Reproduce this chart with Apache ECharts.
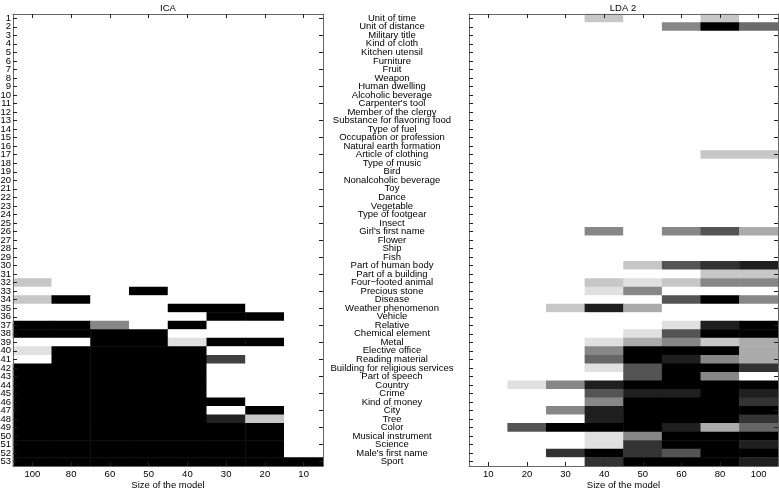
<!DOCTYPE html>
<html>
<head>
<meta charset="utf-8">
<script src="https://cdn.jsdelivr.net/npm/echarts@6/dist/echarts.min.js"></script>
<style>html,body{margin:0;padding:0;background:#fff;}#chart{width:779px;height:488px;}</style>
</head>
<body>
<div id="chart"></div>
<script>
// ---- Data ----
const icaSizes = ['100','80','60','50','40','30','20','10'];
const ldaSizes = ['10','20','30','40','50','60','80','100'];
const rowNumbers = Array.from({length: 53}, (_, i) => String(i + 1));
const categoryNames = [
  'Unit of time','Unit of distance','Military title','Kind of cloth','Kitchen utensil',
  'Furniture','Fruit','Weapon','Human dwelling','Alcoholic beverage',
  "Carpenter's tool",'Member of the clergy','Substance for flavoring food','Type of fuel','Occupation or profession',
  'Natural earth formation','Article of clothing','Type of music','Bird','Nonalcoholic beverage',
  'Toy','Dance','Vegetable','Type of footgear','Insect',
  "Girl's first name",'Flower','Ship','Fish','Part of human body',
  'Part of a building','Four\u2212footed animal','Precious stone','Disease','Weather phenomenon',
  'Vehicle','Relative','Chemical element','Metal','Elective office',
  'Reading material','Building for religious services','Part of speech','Country','Crime',
  'Kind of money','City','Tree','Color','Musical instrument',
  'Science',"Male's first name",'Sport'
];
// darkness values (0 = white, 1 = black); columns follow icaSizes
const Z = [0,0,0,0,0,0,0,0];
const icaValues = [
  Z,Z,Z,Z,Z,Z,Z,Z,Z,Z,
  Z,Z,Z,Z,Z,Z,Z,Z,Z,Z,
  Z,Z,Z,Z,Z,Z,Z,Z,Z,Z,
  Z,
  [0.22,0,0,0,0,0,0,0],
  [0,0,0,1,0,0,0,0],
  [0.22,1,0,0,0,0,0,0],
  [0,0,0,0,1,1,0,0],
  [0,0,0,0,0,1,1,0],
  [1,1,0.47,0,1,0,0,0],
  [1,1,1,1,0,0,0,0],
  [0,0,1,1,0.12,1,1,0],
  [0.12,1,1,1,1,0,0,0],
  [0,1,1,1,1,0.75,0,0],
  [1,1,1,1,1,0,0,0],
  [1,1,1,1,1,0,0,0],
  [1,1,1,1,1,0,0,0],
  [1,1,1,1,1,0,0,0],
  [1,1,1,1,1,1,0,0],
  [1,1,1,1,1,0,1,0],
  [1,1,1,1,1,0.87,0.22,0],
  [1,1,1,1,1,1,1,0],
  [1,1,1,1,1,1,1,0],
  [1,1,1,1,1,1,1,0],
  [1,1,1,1,1,1,1,0],
  [1,1,1,1,1,1,1,1]
];
// columns follow ldaSizes
const ldaValues = [
  [0,0,0,0.22,0,0,0.22,0],
  [0,0,0,0,0,0.47,1,0.58],
  Z,Z,Z,Z,Z,Z,Z,Z,Z,Z,Z,Z,Z,Z,
  [0,0,0,0,0,0,0.22,0.22],
  Z,Z,Z,Z,Z,Z,Z,Z,
  [0,0,0,0.47,0,0.47,0.67,0.33],
  Z,Z,Z,
  [0,0,0,0,0.22,0.67,0.8,0.88],
  [0,0,0,0,0,0,0.22,0.22],
  [0,0,0,0.22,0.12,0.22,0.47,0.47],
  [0,0,0,0.12,0.47,0,0,0],
  [0,0,0,0,0,0.67,1,0.47],
  [0,0,0.22,0.88,0.33,0,0,0],
  Z,
  [0,0,0,0,0,0.12,0.88,1],
  [0,0,0,0,0.12,0.67,1,1],
  [0,0,0,0.12,0.33,0.47,0.22,0.33],
  [0,0,0,0.47,1,1,1,0.33],
  [0,0,0,0.6,1,0.88,0.47,0.33],
  [0,0,0,0.12,0.67,1,1,0.8],
  [0,0,0,0,0.67,1,0.47,0],
  [0,0.12,0.47,0.88,1,1,1,1],
  [0,0,0,0.67,0.88,0.88,1,0.88],
  [0,0,0,0.47,1,1,1,0.8],
  [0,0,0.47,0.88,1,1,1,1],
  [0,0,0,0.88,1,1,1,0.8],
  [0,0.67,1,1,1,0.88,0.33,0.6],
  [0,0,0,0.12,0.47,1,1,1],
  [0,0,0,0.12,0.8,1,1,0.88],
  [0,0,0.8,1,0.8,0.67,1,1],
  [0,0,0,0.8,1,1,1,0.88]
];

function toCells(rows) {
  const out = [];
  rows.forEach((r, yi) => r.forEach((v, xi) => out.push([xi, yi, v])));
  return out;
}

const FONT = 'Liberation Sans, Arial, Helvetica, sans-serif';
const FS = 9.5;
const lineCol = '#666';
const tickCol = '#222';
function xAx(grid, data, pos, labels, name) {
  return {
    type: 'category', gridIndex: grid, data: data, position: pos, z: 5,
    axisLine: {show: true, onZero: false, lineStyle: {color: lineCol, width: 1}},
    axisTick: {show: true, inside: true, length: 4, alignWithLabel: true, lineStyle: {color: tickCol}},
    axisLabel: {show: labels, fontSize: FS, color: '#000', margin: 3, fontFamily: FONT},
    splitLine: {show: false},
    name: name || '', nameLocation: 'middle', nameGap: 14, nameMoveOverlap: false,
    nameTextStyle: {fontSize: FS, color: '#000', fontFamily: FONT, verticalAlign: 'top'}
  };
}
function yAx(grid, data, pos, labelCfg) {
  return {
    type: 'category', gridIndex: grid, data: data, position: pos, inverse: true, z: 5,
    axisLine: {show: true, onZero: false, lineStyle: {color: lineCol, width: 1}},
    axisTick: {show: true, inside: true, length: 4, alignWithLabel: true, lineStyle: {color: tickCol}},
    axisLabel: labelCfg ? Object.assign({show: true, interval: 0, fontSize: FS, color: '#000', fontFamily: FONT}, labelCfg) : {show: false},
    splitLine: {show: false}
  };
}

const chart = echarts.init(document.getElementById('chart'), null, {renderer: 'canvas'});
chart.setOption({
  backgroundColor: '#fff',
  animation: false,
  title: [
    {text: 'ICA', left: 168, top: 3, padding: 0, textAlign: 'center', textStyle: {fontSize: FS, fontWeight: 'normal', color: '#000', fontFamily: FONT}},
    {text: 'LDA 2', left: 623, top: 3, padding: 0, textAlign: 'center', textStyle: {fontSize: FS, fontWeight: 'normal', color: '#000', fontFamily: FONT}}
  ],
  grid: [
    {left: 13, top: 14, width: 310, height: 452, outerBoundsMode: 'none', containLabel: false},
    {left: 469, top: 14, width: 309, height: 452, outerBoundsMode: 'none', containLabel: false}
  ],
  xAxis: [
    xAx(0, icaSizes, 'bottom', true, 'Size of the model'),
    xAx(0, icaSizes, 'top', false),
    xAx(1, ldaSizes, 'bottom', true, 'Size of the model'),
    xAx(1, ldaSizes, 'top', false)
  ],
  yAxis: [
    yAx(0, rowNumbers, 'left', {margin: 2}),
    yAx(0, rowNumbers, 'right', null),
    yAx(1, categoryNames, 'left', {margin: 77, align: 'center'}),
    yAx(1, categoryNames, 'right', null)
  ],
  visualMap: {
    show: false, type: 'continuous', min: 0, max: 1, seriesIndex: [0, 1],
    inRange: {color: ['#ffffff', '#000000']}
  },
  series: [
    {type: 'heatmap', xAxisIndex: 0, yAxisIndex: 0, data: toCells(icaValues), itemStyle: {borderWidth: 0}},
    {type: 'heatmap', xAxisIndex: 2, yAxisIndex: 2, data: toCells(ldaValues), itemStyle: {borderWidth: 0}}
  ]
});
</script>
</body>
</html>
